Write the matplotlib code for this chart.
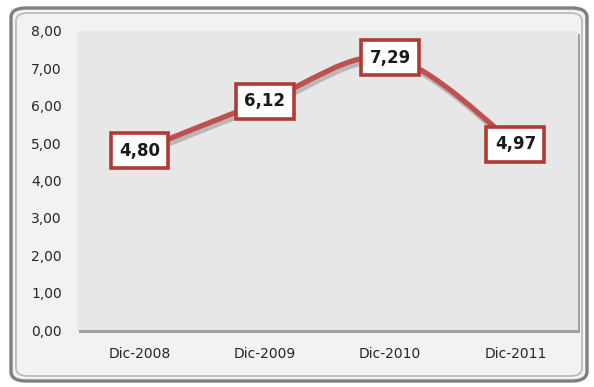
import matplotlib
matplotlib.use("Agg")
import matplotlib.pyplot as plt
from matplotlib.patches import FancyBboxPatch, Rectangle, PathPatch
from matplotlib.path import Path
from matplotlib.transforms import offset_copy
import numpy as np

# data
categories = ["Dic-2008", "Dic-2009", "Dic-2010", "Dic-2011"]
values = [4.80, 6.12, 7.29, 4.97]
labels = ["4,80", "6,12", "7,29", "4,97"]
yticks = [0, 1, 2, 3, 4, 5, 6, 7, 8]
ytick_labels = ["0,00", "1,00", "2,00", "3,00", "4,00", "5,00", "6,00", "7,00", "8,00"]

line_red = "#c0504d"
box_red = "#b03a36"

fig = plt.figure(figsize=(5.94, 3.87), dpi=100)
fig.patch.set_facecolor("white")

# outer rounded frame (double gray line)
W, H = 594, 387
def fx(px): return px / W
def fy(py): return 1 - py / H
outer = FancyBboxPatch((fx(11), fy(381)), fx(576), 373 / H,
                       boxstyle="round,pad=0,rounding_size=0.025",
                       transform=fig.transFigure, facecolor="#f2f2f2",
                       edgecolor="#7f7f7f", lw=2.4, zorder=-3)
inner = FancyBboxPatch((fx(16), fy(376)), fx(566), 363 / H,
                       boxstyle="round,pad=0,rounding_size=0.02",
                       transform=fig.transFigure, facecolor="none",
                       edgecolor="#b8b8b8", lw=1.2, zorder=-2)
# plot area shadow
shadow = Rectangle((fx(79), fy(333)), fx(501), (333 - 34) / H,
                   transform=fig.transFigure, facecolor="#a0a0a0",
                   edgecolor="none", zorder=-1)
fig.patches.extend([outer, inner, shadow])

ax = fig.add_axes([fx(77), fy(330), fx(578) - fx(77), (330 - 31) / H])
ax.set_facecolor("#e7e7e7")
ax.set_xlim(-0.5, len(categories) - 0.5)
ax.set_ylim(0, 8)

for s in ax.spines.values():
    s.set_visible(False)
ax.set_yticks(yticks)
ax.set_yticklabels(ytick_labels, fontsize=10, color="#262626")
ax.set_xticks(range(len(categories)))
ax.set_xticklabels(categories, fontsize=10, color="#262626")
ax.tick_params(length=0)
ax.tick_params(axis="y", pad=11)
ax.tick_params(axis="x", pad=12)

# smoothed line (bezier through the data points)
x = np.arange(len(values), dtype=float)
y = np.array(values)
px = np.concatenate([[x[0]], x, [x[-1]]])
py = np.concatenate([[y[0]], y, [y[-1]]])
verts = [(x[0], y[0])]
codes = [Path.MOVETO]
for i in range(len(x) - 1):
    j = i + 1
    c1 = (px[j] + (px[j + 1] - px[j - 1]) / 6, py[j] + (py[j + 1] - py[j - 1]) / 6)
    c2 = (px[j + 1] - (px[j + 2] - px[j]) / 6, py[j + 1] - (py[j + 2] - py[j]) / 6)
    verts += [c1, c2, (x[j], y[j])]
    codes += [Path.CURVE4] * 3
curve = Path(verts, codes)
ax.add_patch(PathPatch(curve, facecolor="none", edgecolor="#808080", lw=4.5,
                       alpha=0.45, zorder=2,
                       transform=offset_copy(ax.transData, fig=fig, x=1.5, y=-2.5,
                                             units="points")))
ax.add_patch(PathPatch(curve, facecolor="none", edgecolor=line_red, lw=3.8,
                       capstyle="round", zorder=3))

# data labels
for xi, yi, lab in zip(x, y, labels):
    ax.text(xi, yi, lab, ha="center", va="center", fontsize=12,
            fontweight="bold", color="#1a1a1a", zorder=5,
            bbox=dict(boxstyle="square,pad=0.5", facecolor="white",
                      edgecolor=box_red, lw=2.6))

fig.savefig("out.png", dpi=100)
